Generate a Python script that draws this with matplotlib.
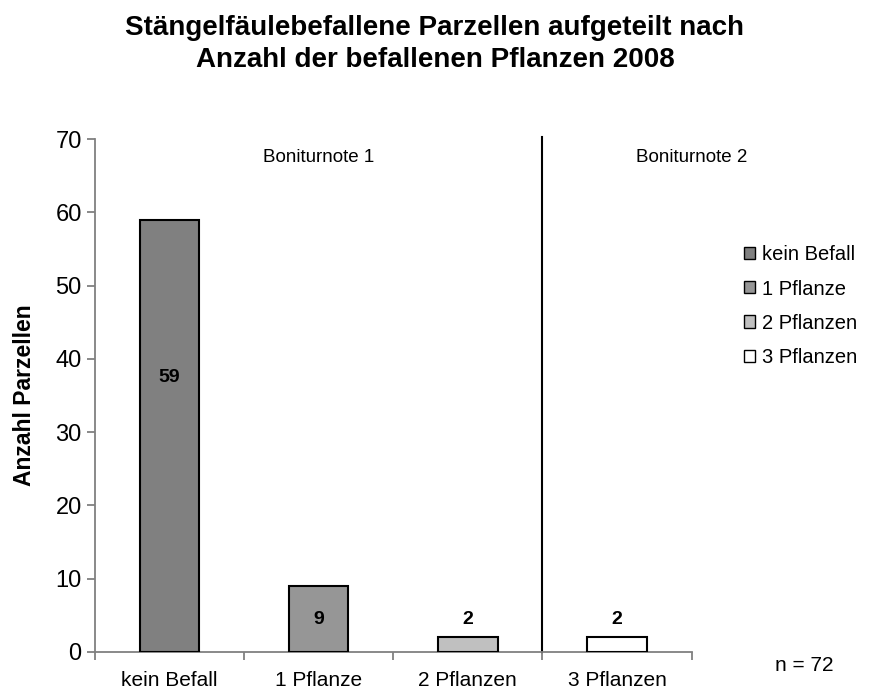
import matplotlib
matplotlib.use("Agg")
import matplotlib.pyplot as plt
from matplotlib.patches import Patch

plt.rcParams['font.family'] = ['Liberation Sans', 'DejaVu Sans']

# Befallsklassen und Anzahl Parzellen
categories = ['kein Befall', '1 Pflanze', '2 Pflanzen', '3 Pflanzen']
counts = [59, 9, 2, 2]
colors = ['#808080', '#969696', '#c0c0c0', '#ffffff']
n_total = 72

fig = plt.figure(figsize=(8.7, 6.93), dpi=100)
ax = fig.add_axes([0.109, 0.0592, 0.686, 0.7402])

x = list(range(len(categories)))
ax.bar(x, counts, width=0.4, color=colors, edgecolor='black', linewidth=1.5, zorder=3)

# value labels: inside the tall bars, above the small ones
label_y = [37.4, 4.4, 4.4, 4.4]
for xi, v, ly in zip(x, counts, label_y):
    ax.text(xi, ly, str(v), ha='center', va='center', fontsize=14, fontweight='bold')

ax.set_xlim(-0.5, 3.5)
ax.set_ylim(0, 70)
ax.set_yticks(range(0, 71, 10))
ax.set_xticks([-0.5, 0.5, 1.5, 2.5, 3.5])
ax.set_xticklabels([])
for xi, c in zip(x, categories):
    ax.text(xi, -4.7, c, ha='center', va='baseline', fontsize=15)

for s in ['top', 'right']:
    ax.spines[s].set_visible(False)
for s in ['left', 'bottom']:
    ax.spines[s].set_color('#808080')
    ax.spines[s].set_linewidth(1.3)
ax.tick_params(axis='y', direction='out', length=6, color='#808080', labelsize=17, width=1.3)
ax.tick_params(axis='x', direction='out', length=6, color='#808080', width=1.3)

# Trennlinie zwischen Boniturnote 1 und 2
ax.plot([2.5, 2.5], [0, 70.3], color='black', linewidth=1.5, zorder=2, clip_on=False)
ax.text(1.0, 67.5, 'Boniturnote 1', ha='center', va='center', fontsize=13.5)
ax.text(3.5, 67.5, 'Boniturnote 2', ha='center', va='center', fontsize=13.5)

ax.set_ylabel('Anzahl Parzellen', fontsize=16.5, fontweight='bold', labelpad=14)

fig.text(0.5, 0.937, 'Stängelfäulebefallene Parzellen aufgeteilt nach\nAnzahl der befallenen Pflanzen 2008',
         ha='center', va='center', fontsize=20, fontweight='bold', linespacing=1.3)

handles = [Patch(facecolor=c, edgecolor='black', linewidth=1.0) for c in colors]
fig.legend(handles, categories, loc='upper left', bbox_to_anchor=(0.834, 0.672),
           frameon=False, fontsize=14.5, handlelength=0.55, handleheight=0.55,
           handletextpad=0.35, labelspacing=0.75)

fig.text(0.925, 0.039, f'n = {n_total}', ha='center', va='center', fontsize=15)

fig.savefig('out.png', dpi=100)
